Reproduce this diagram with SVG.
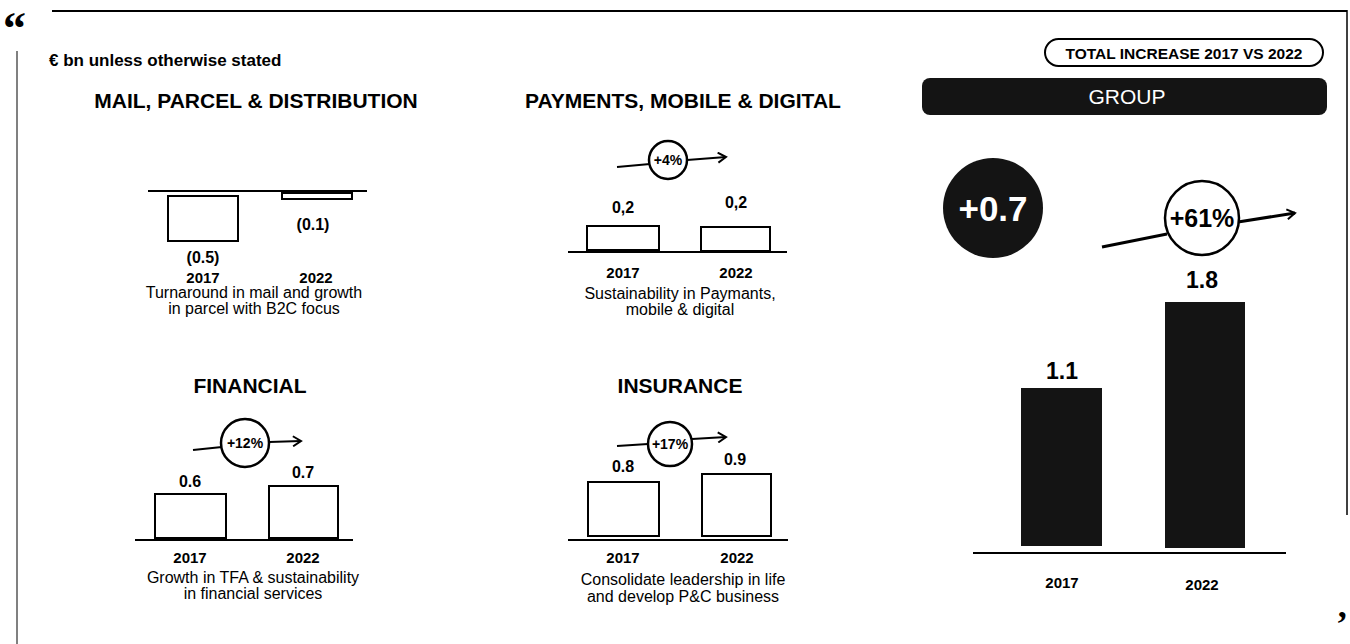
<svg xmlns="http://www.w3.org/2000/svg" width="1350" height="644" viewBox="0 0 1350 644">
<defs>
<marker id="chev" viewBox="0 0 12 12" refX="10" refY="6" markerWidth="12" markerHeight="12" markerUnits="userSpaceOnUse" orient="auto">
<path d="M2,1 L10,6 L2,11" fill="none" stroke="#000" stroke-width="2"/>
</marker>
</defs>
<style>
text{font-family:"Liberation Sans",Arial,sans-serif;fill:#000}
.t{font-size:21px;font-weight:bold;text-anchor:middle}
.v{font-size:16px;font-weight:bold;text-anchor:middle}
.y{font-size:15px;font-weight:bold;text-anchor:middle}
.s{font-size:16px;text-anchor:middle}
.bar{fill:#fff;stroke:#000;stroke-width:2}
.ax{stroke:#000;stroke-width:2}
.ring{fill:#fff;stroke:#000;stroke-width:2.5}
.ln{fill:none;stroke:#000;stroke-width:2}
.pct{font-size:14px;font-weight:bold;text-anchor:middle}
.dark{fill:#141414}
</style>
<rect width="1350" height="644" fill="#fff"/>
<g id="frame">
<line x1="52" y1="11" x2="1347" y2="11" stroke="#000" stroke-width="2"/>
<line x1="1347" y1="10" x2="1347" y2="515" stroke="#000" stroke-width="1.5"/>
<line x1="17" y1="51" x2="17" y2="644" stroke="#808080" stroke-width="2"/>
<text x="3" y="44" style="font-family:'Liberation Serif',serif;font-size:46px;font-weight:bold">“</text>
<text x="1336" y="636" style="font-family:'Liberation Serif',serif;font-size:36px;font-weight:bold">’</text>
<text x="49" y="66" style="font-size:17px;font-weight:bold">€ bn unless otherwise stated</text>
</g>
<g id="mail">
<text class="t" x="256" y="108">MAIL, PARCEL &amp; DISTRIBUTION</text>
<line class="ax" x1="148" y1="191" x2="367" y2="191"/>
<rect class="bar" x="168" y="196" width="70" height="45"/>
<rect class="bar" x="282" y="193" width="70" height="6"/>
<text class="v" x="313" y="230">(0.1)</text>
<text class="v" x="203" y="263">(0.5)</text>
<text class="y" x="203" y="283">2017</text>
<text class="y" x="316" y="283">2022</text>
<text class="s" x="254" y="298">Turnaround in mail and growth</text>
<text class="s" x="254" y="314">in parcel with B2C focus</text>
</g>
<g id="payments">
<text class="t" x="683" y="108">PAYMENTS, MOBILE &amp; DIGITAL</text>
<line class="ax" x1="568" y1="252" x2="787" y2="252"/>
<rect class="bar" x="587" y="226" width="72" height="24"/>
<rect class="bar" x="701" y="227" width="69" height="24"/>
<text class="v" x="623" y="213">0,2</text>
<text class="v" x="736" y="208">0,2</text>
<text class="y" x="623" y="278">2017</text>
<text class="y" x="736" y="278">2022</text>
<text class="s" x="680" y="299">Sustainability in Paymants,</text>
<text class="s" x="680" y="315">mobile &amp; digital</text>
</g>
<g id="financial">
<text class="t" x="250" y="393">FINANCIAL</text>
<line class="ax" x1="135" y1="540" x2="353" y2="540"/>
<rect class="bar" x="155" y="494" width="71" height="44"/>
<rect class="bar" x="269" y="486" width="69" height="52"/>
<text class="v" x="190" y="487">0.6</text>
<text class="v" x="303" y="478">0.7</text>
<text class="y" x="190" y="563">2017</text>
<text class="y" x="303" y="563">2022</text>
<text class="s" x="253" y="583">Growth in TFA &amp; sustainability</text>
<text class="s" x="253" y="599">in financial services</text>
</g>
<g id="insurance">
<text class="t" x="680" y="393">INSURANCE</text>
<line class="ax" x1="568" y1="540" x2="788" y2="540"/>
<rect class="bar" x="588" y="482" width="71" height="54"/>
<rect class="bar" x="702" y="474" width="69" height="62"/>
<text class="v" x="623" y="472">0.8</text>
<text class="v" x="735" y="465">0.9</text>
<text class="y" x="623" y="563">2017</text>
<text class="y" x="737" y="563">2022</text>
<text class="s" x="683" y="585">Consolidate leadership in life</text>
<text class="s" x="683" y="602">and develop P&amp;C business</text>
</g>
<g id="group">
<rect x="1045" y="39" width="278" height="27" rx="13.5" fill="#fff" stroke="#000" stroke-width="2"/>
<text x="1184" y="59" style="font-size:15.5px;font-weight:bold;text-anchor:middle">TOTAL INCREASE 2017 VS 2022</text>
<rect class="dark" x="922" y="78" width="405" height="37" rx="8"/>
<text x="1127" y="104" style="font-size:21px;text-anchor:middle;fill:#fff">GROUP</text>
<circle class="dark" cx="993" cy="208" r="50"/>
<text x="993" y="221" style="font-size:35px;font-weight:bold;text-anchor:middle;fill:#fff">+0.7</text>
<line class="ax" x1="973" y1="553" x2="1286" y2="553"/>
<rect class="dark" x="1021" y="388" width="81" height="158"/>
<rect class="dark" x="1165" y="302" width="80" height="246"/>
<text x="1062" y="379" style="font-size:23px;font-weight:bold;text-anchor:middle">1.1</text>
<text x="1202" y="288" style="font-size:23px;font-weight:bold;text-anchor:middle">1.8</text>
<text class="y" x="1062" y="588">2017</text>
<text class="y" x="1202" y="590">2022</text>
</g>
<g id="connectors">
<line class="ln" x1="617" y1="167" x2="650" y2="164"/>
<line class="ln" x1="687" y1="160" x2="726" y2="157" marker-end="url(#chev)"/>
<line class="ln" x1="193" y1="450" x2="222" y2="447"/>
<line class="ln" x1="269" y1="442" x2="301" y2="441" marker-end="url(#chev)"/>
<line class="ln" x1="617" y1="446" x2="648" y2="444"/>
<line class="ln" x1="692" y1="439" x2="726" y2="437" marker-end="url(#chev)"/>
<line x1="1102" y1="247" x2="1167" y2="234" stroke="#000" stroke-width="3"/>
<line x1="1238" y1="222" x2="1295" y2="213" stroke="#000" stroke-width="3" marker-end="url(#chev)"/>
</g>
<g id="badges">
<circle class="ring" cx="668" cy="160" r="19"/>
<text class="pct" x="668" y="165">+4%</text>
<circle class="ring" cx="245" cy="443" r="24"/>
<text class="pct" x="245" y="448">+12%</text>
<circle class="ring" cx="670" cy="444" r="22"/>
<text class="pct" x="670" y="449">+17%</text>
<circle class="ring" cx="1202" cy="218" r="37"/>
<text x="1202" y="227" style="font-size:25px;font-weight:bold;text-anchor:middle">+61%</text>
</g>
</svg>
